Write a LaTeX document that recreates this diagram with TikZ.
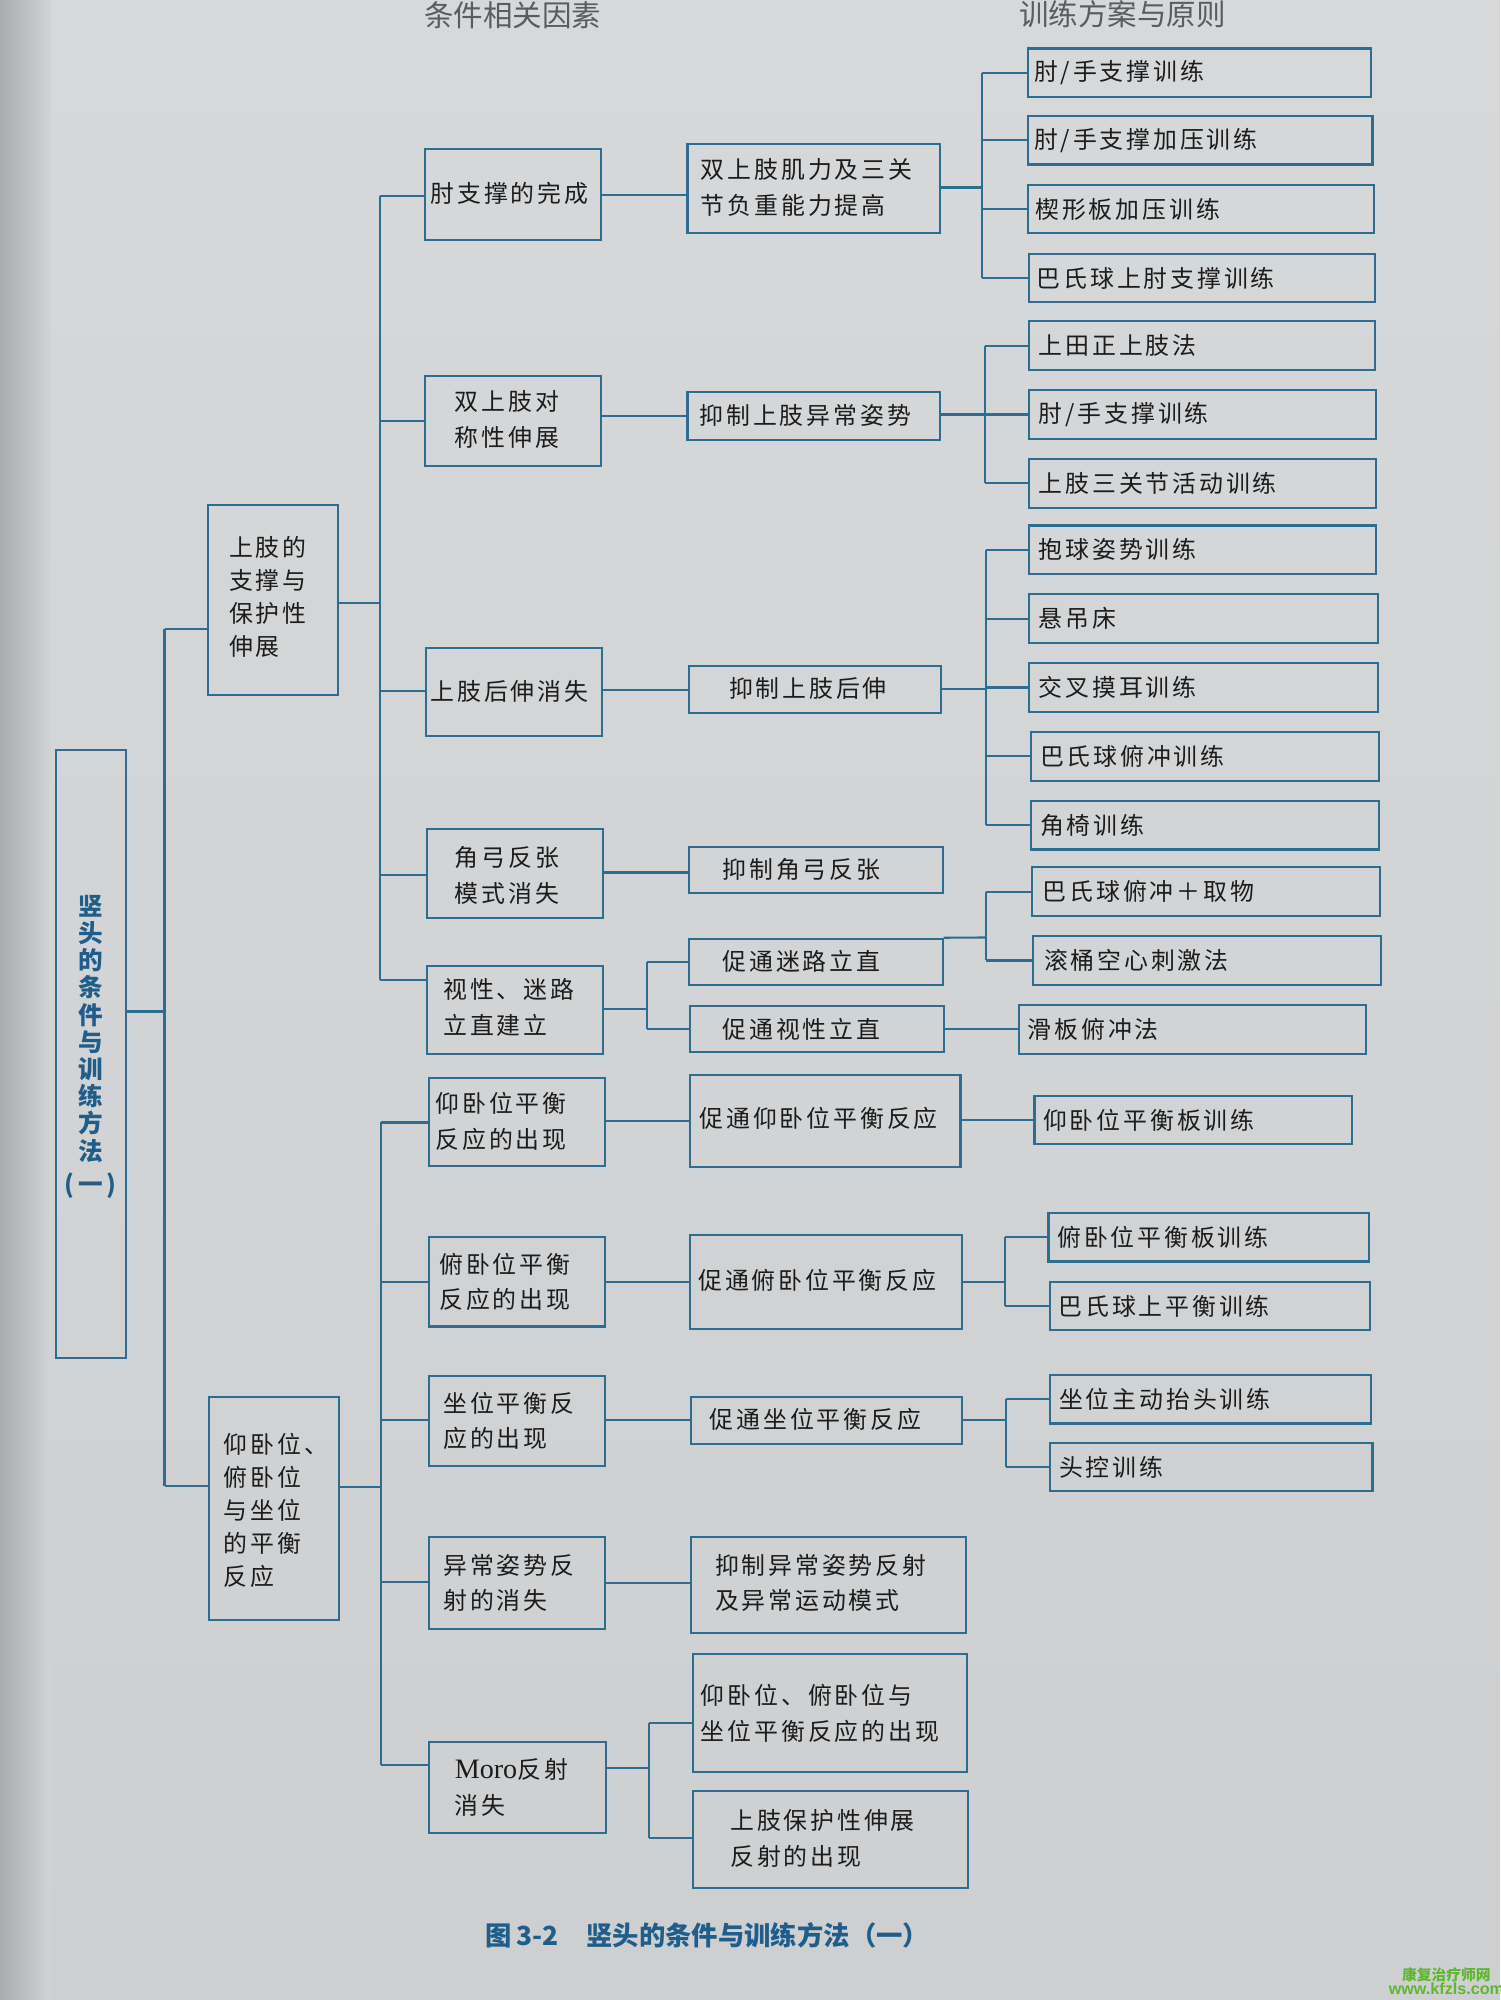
\documentclass[tikz,border=0pt]{standalone}
\usepackage{fontspec}
\setmainfont{Noto Sans CJK SC}
\newfontfamily\bt[LetterSpace=12]{Noto Sans CJK SC}
\newfontfamily\latf{Liberation Serif}
\newfontfamily\wmf{Liberation Sans}
\usetikzlibrary{fit}
\definecolor{paper}{HTML}{D6D8DA}
\definecolor{paperlo}{HTML}{CDCFD1}
\definecolor{edge}{HTML}{A9ABAD}
\definecolor{lnc}{HTML}{2E6D92}
\definecolor{ink}{HTML}{1C1C1C}
\definecolor{capblue}{HTML}{1F5E8A}
\definecolor{hdrc}{HTML}{5A5C5E}
\definecolor{wmg}{HTML}{5DB82E}
\newcommand\mybox[5]{\node[boxs, fit={(#2,#3) (#4,#5)}] (#1) {};}
\newcommand\lbox[4]{\node[boxs, fit={(#2,#4-19) (#3,#4+19)}] (#1) {};}
\begin{document}
\begin{tikzpicture}[x=0.0127551cm, y=-0.0127551cm,
  lnk/.style={draw=lnc, line width=0.6pt},
  boxs/.style={draw=lnc, line width=0.6pt, inner sep=0pt, rectangle},
  t1/.style={font=\bt\fontsize{6.8}{10.2}\selectfont, text=ink, align=left, inner sep=0pt, anchor=west},
  tL/.style={font=\bt\fontsize{6.8}{9.4}\selectfont, text=ink, align=left, inner sep=0pt, anchor=west},
  rt/.style={font=\bfseries\fontsize{7}{7.75}\selectfont, text=capblue, align=center, inner sep=0pt, anchor=north},
  captxt/.style={font=\bfseries\fontsize{7.5}{9}\selectfont, text=capblue, inner sep=0pt, anchor=west},
  hdr/.style={font=\fontsize{8.4}{10}\selectfont, text=hdrc, inner sep=0pt},
  wm/.style={font=\bfseries\fontsize{4.2}{5}\selectfont, text=wmg, inner sep=0pt}]
\useasboundingbox (0,0) rectangle (1176,1568);
\shade[top color=paper, bottom color=paperlo] (0,0) rectangle (1176,1568);
\shade[left color=edge, right color=paper!50!paperlo] (0,0) rectangle (40,1568);

% headers
\node[hdr] (h1) at (402,12) {条件相关因素};
\node[hdr] (h2) at (880,11) {训练方案与原则};

% root and level 1
\mybox{root}{44}{588}{99}{1065}
\node[rt] (rtx) at (71,701) {竖\\头\\的\\条\\件\\与\\训\\练\\方\\法\\[1.6pt](\,一\,)};
\mybox{A}{163}{396}{265}{545}
\mybox{B}{164}{1095}{266}{1270}
\node[tL] (tA) at (179,468) {上肢的\\支撑与\\保护性\\伸展};
\node[tL] (tB) at (175,1184) {仰卧位、\\俯卧位\\与坐位\\的平衡\\反应};

% level 2
\mybox{n1}{333}{117}{471}{188}
\mybox{n2}{333}{295}{471}{365}
\mybox{n3}{334}{508}{472}{577}
\mybox{n4}{335}{650}{473}{720}
\mybox{n5}{335}{757}{473}{826}
\mybox{p1}{336}{845}{474}{914}
\mybox{p2}{336}{970}{474}{1040}
\mybox{p3}{336}{1079}{474}{1149}
\mybox{p4}{336}{1205}{474}{1277}
\mybox{p5}{336}{1366}{475}{1437}
\node[t1] (tn1) at (337,152) {肘支撑的完成};
\node[t1] (tn2) at (356,329) {双上肢对\\称性伸展};
\node[t1] (tn3) at (337,542) {上肢后伸消失};
\node[t1] (tn4) at (356,686) {角弓反张\\模式消失};
\node[t1] (tn5) at (347,790) {视性、迷路\\立直建立};
\node[t1] (tp1) at (341,879) {仰卧位平衡\\反应的出现};
\node[t1] (tp2) at (344,1005) {俯卧位平衡\\反应的出现};
\node[t1] (tp3) at (347,1114) {坐位平衡反\\应的出现};
\node[t1] (tp4) at (347,1241) {异常姿势反\\射的消失};
\node[t1] (tp5) at (356,1401) {{\latf\fontsize{8}{10}\selectfont Moro}反射\\消失};

% level 3
\mybox{m1}{539}{113}{737}{183}
\mybox{m2}{539}{307}{737}{345}
\mybox{m3}{540}{522}{738}{559}
\mybox{m4}{540}{664}{739}{700}
\mybox{m5}{540}{736}{739}{772}
\mybox{m6}{541}{789}{740}{825}
\mybox{q1}{541}{843}{753}{915}
\mybox{q2}{541}{968}{754}{1042}
\mybox{q3}{542}{1095}{754}{1132}
\mybox{q4}{542}{1205}{757}{1280}
\mybox{q5}{543}{1297}{758}{1389}
\mybox{q6}{543}{1404}{759}{1480}
\node[t1] (tm1) at (549,147) {双上肢肌力及三关\\节负重能力提高};
\node[t1] (tm2) at (548,326) {抑制上肢异常姿势};
\node[t1] (tm3) at (571,540) {抑制上肢后伸};
\node[t1] (tm4) at (566,682) {抑制角弓反张};
\node[t1] (tm5) at (566,754) {促通迷路立直};
\node[t1] (tm6) at (566,807) {促通视性立直};
\node[t1] (tq1) at (548,877) {促通仰卧位平衡反应};
\node[t1] (tq2) at (547,1004) {促通俯卧位平衡反应};
\node[t1] (tq3) at (556,1113) {促通坐位平衡反应};
\node[t1] (tq4) at (560,1241) {抑制异常姿势反射\\及异常运动模式};
\node[t1] (tq5) at (549,1343) {仰卧位、俯卧位与\\坐位平衡反应的出现};
\node[t1] (tq6) at (572,1441) {上肢保护性伸展\\反射的出现};

% level 4
\lbox{r1}{806}{1075}{57}
\lbox{r2}{806}{1076}{110}
\lbox{r3}{806}{1077}{164}
\lbox{r4}{807}{1078}{218}
\lbox{r5}{807}{1078}{271}
\lbox{r6}{807}{1079}{325}
\lbox{r7}{807}{1079}{379}
\lbox{r8}{807}{1079}{431}
\lbox{r9}{807}{1080}{485}
\lbox{r10}{807}{1080}{539}
\lbox{r11}{808}{1081}{593}
\lbox{r12}{808}{1081}{647}
\lbox{r13}{809}{1082}{699}
\lbox{r14}{810}{1083}{753}
\lbox{r15}{799}{1071}{807}
\lbox{r16}{811}{1060}{878}
\lbox{r17}{822}{1073}{970}
\lbox{r18}{823}{1074}{1024}
\lbox{r19}{823}{1075}{1097}
\lbox{r20}{823}{1076}{1150}
\node[t1] (tr1) at ([xshift=1.8pt]r1.west) {肘/手支撑训练};
\node[t1] (tr2) at ([xshift=1.8pt]r2.west) {肘/手支撑加压训练};
\node[t1] (tr3) at ([xshift=2.2pt]r3.west) {楔形板加压训练};
\node[t1] (tr4) at ([xshift=2.2pt]r4.west) {巴氏球上肘支撑训练};
\node[t1] (tr5) at ([xshift=2.8pt]r5.west) {上田正上肢法};
\node[t1] (tr6) at ([xshift=2.8pt]r6.west) {肘/手支撑训练};
\node[t1] (tr7) at ([xshift=2.8pt]r7.west) {上肢三关节活动训练};
\node[t1] (tr8) at ([xshift=2.8pt]r8.west) {抱球姿势训练};
\node[t1] (tr9) at ([xshift=2.8pt]r9.west) {悬吊床};
\node[t1] (tr10) at ([xshift=2.8pt]r10.west) {交叉摸耳训练};
\node[t1] (tr11) at ([xshift=2.8pt]r11.west) {巴氏球俯冲训练};
\node[t1] (tr12) at ([xshift=2.8pt]r12.west) {角椅训练};
\node[t1] (tr13) at ([xshift=3.2pt]r13.west) {巴氏球俯冲＋取物};
\node[t1] (tr14) at ([xshift=3.2pt]r14.west) {滚桶空心刺激法};
\node[t1] (tr15) at ([xshift=2.6pt]r15.west) {滑板俯冲法};
\node[t1] (tr16) at ([xshift=2.6pt]r16.west) {仰卧位平衡板训练};
\node[t1] (tr17) at ([xshift=2.6pt]r17.west) {俯卧位平衡板训练};
\node[t1] (tr18) at ([xshift=2.6pt]r18.west) {巴氏球上平衡训练};
\node[t1] (tr19) at ([xshift=2.8pt]r19.west) {坐位主动抬头训练};
\node[t1] (tr20) at ([xshift=2.8pt]r20.west) {头控训练};

% connectors: root
\coordinate (jR) at (129,793);
\coordinate (jA) at (129,493);
\coordinate (jB) at (129,1165);
\draw[lnk] (root.east |- jR) -- (jR);
\draw[lnk] (jA) -- (jB);
\draw[lnk] (jA) -- (A.west |- jA);
\draw[lnk] (jB) -- (B.west |- jB);

% A branch
\coordinate (kA) at (298,473);
\coordinate (a1) at (298,154);
\coordinate (a2) at (298,330);
\coordinate (a3) at (298,542);
\coordinate (a4) at (298,686);
\coordinate (a5) at (298,768);
\draw[lnk] (A.east |- kA) -- (kA);
\draw[lnk] (a1) -- (a5);
\foreach \c/\n in {a1/n1,a2/n2,a3/n3,a4/n4,a5/n5} \draw[lnk] (\c) -- (\n.west |- \c);

% B branch
\coordinate (kB) at (299,1166);
\coordinate (b1) at (299,880);
\coordinate (b2) at (299,1005);
\coordinate (b3) at (299,1113);
\coordinate (b4) at (299,1240);
\coordinate (b5) at (299,1384);
\draw[lnk] (B.east |- kB) -- (kB);
\draw[lnk] (b1) -- (b5);
\foreach \c/\n in {b1/p1,b2/p2,b3/p3,b4/p4,b5/p5} \draw[lnk] (\c) -- (\n.west |- \c);

% level 2 -> level 3
\coordinate (c1) at (500,153);
\coordinate (c2) at (500,326);
\coordinate (c3) at (500,541);
\coordinate (c4) at (500,684);
\draw[lnk] (n1.east |- c1) -- (m1.west |- c1);
\draw[lnk] (n2.east |- c2) -- (m2.west |- c2);
\draw[lnk] (n3.east |- c3) -- (m3.west |- c3);
\draw[lnk] (n4.east |- c4) -- (m4.west |- c4);
\coordinate (d0) at (507,791);
\coordinate (d1) at (507,754);
\coordinate (d2) at (507,807);
\draw[lnk] (n5.east |- d0) -- (d0);
\draw[lnk] (d1) -- (d2);
\draw[lnk] (d1) -- (m5.west |- d1);
\draw[lnk] (d2) -- (m6.west |- d2);
\coordinate (c5) at (500,879);
\coordinate (c6) at (500,1005);
\coordinate (c7) at (500,1113);
\coordinate (c8) at (500,1241);
\draw[lnk] (p1.east |- c5) -- (q1.west |- c5);
\draw[lnk] (p2.east |- c6) -- (q2.west |- c6);
\draw[lnk] (p3.east |- c7) -- (q3.west |- c7);
\draw[lnk] (p4.east |- c8) -- (q4.west |- c8);
\coordinate (s0) at (509,1386);
\coordinate (s1) at (509,1351);
\coordinate (s2) at (509,1441);
\draw[lnk] (p5.east |- s0) -- (s0);
\draw[lnk] (s1) -- (s2);
\draw[lnk] (s1) -- (q5.west |- s1);
\draw[lnk] (s2) -- (q6.west |- s2);

% level 3 -> level 4
\coordinate (e0) at (770,147);
\draw[lnk] (m1.east |- e0) -- (e0);
\draw[lnk] (e0 |- r1.west) -- (e0 |- r4.west);
\foreach \n in {r1,r2,r3,r4} \draw[lnk] (e0 |- \n.west) -- (\n.west);
\coordinate (f0) at (772,325);
\draw[lnk] (m2.east |- f0) -- (f0);
\draw[lnk] (f0 |- r5.west) -- (f0 |- r7.west);
\foreach \n in {r5,r6,r7} \draw[lnk] (f0 |- \n.west) -- (\n.west);
\coordinate (g0) at (773,540);
\draw[lnk] (m3.east |- g0) -- (g0);
\draw[lnk] (g0 |- r8.west) -- (g0 |- r12.west);
\foreach \n in {r8,r9,r10,r11,r12} \draw[lnk] (g0 |- \n.west) -- (\n.west);
\coordinate (h0) at (773,735);
\draw[lnk] (m5.north east) -- (h0);
\draw[lnk] (h0 |- r13.west) -- (h0 |- r14.west);
\foreach \n in {r13,r14} \draw[lnk] (h0 |- \n.west) -- (\n.west);
\draw[lnk] (m6.east) -- (m6.east -| r15.west);
\draw[lnk] (q1.east |- r16.west) -- (r16.west);
\coordinate (u0) at (788,1005);
\draw[lnk] (q2.east |- u0) -- (u0);
\draw[lnk] (u0 |- r17.west) -- (u0 |- r18.west);
\foreach \n in {r17,r18} \draw[lnk] (u0 |- \n.west) -- (\n.west);
\coordinate (v0) at (789,1113);
\draw[lnk] (q3.east |- v0) -- (v0);
\draw[lnk] (v0 |- r19.west) -- (v0 |- r20.west);
\foreach \n in {r19,r20} \draw[lnk] (v0 |- \n.west) -- (\n.west);

% caption
\node[captxt] (capt) at (380,1517) {图\,3-2\hspace{8pt}竖头的条件与训练方法（一）};

% watermark
\node[wm] (w1) at (1134,1548) {康复治疗师网};
\node[wm, font=\wmf\bfseries\fontsize{4.6}{5}\selectfont] (w2) at (1134,1559) {www.kfzls.com};
\end{tikzpicture}
\end{document}
